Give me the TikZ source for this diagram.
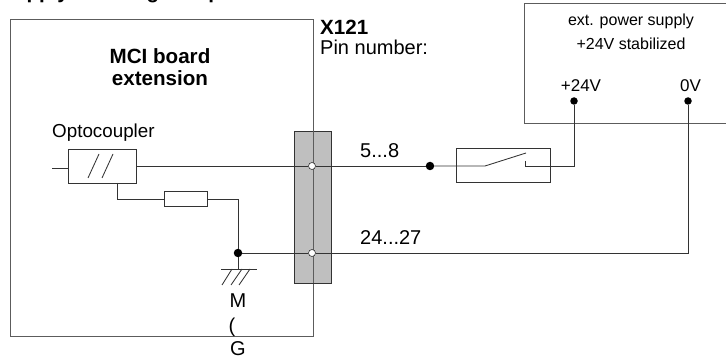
\documentclass[tikz,border=0pt]{standalone}
\usepackage{fontspec}
\setmainfont{Liberation Sans}
\definecolor{wire}{gray}{0.2}
\definecolor{conn}{gray}{0.75}
\tikzset{
  x=1pt,y=-1pt,
  wire/.style={draw=wire,line width=0.85pt},
  frame/.style={draw=wire!80!white,line width=0.85pt},
  part/.style={wire,fill=white,inner sep=0pt,minimum width=0pt},
  dot/.style={circle,fill=black,inner sep=0pt,minimum size=8.5pt},
  pin/.style={circle,draw=wire,fill=white,line width=0.6pt,inner sep=0pt,minimum size=7pt},
  lbl/.style={inner sep=0pt,anchor=base,text=black,font=\fontsize{20}{22}\selectfont},
  lbs/.style={inner sep=0pt,anchor=base,text=black,font=\fontsize{16}{18}\selectfont},
  lbm/.style={inner sep=0pt,anchor=base,text=black,font=\fontsize{17}{19}\selectfont},
  bold/.style={lbl,font=\fontsize{20.6}{22}\selectfont\bfseries},
}
\begin{document}
\begin{tikzpicture}
\useasboundingbox[fill=white] (0,0) rectangle (726,358);
\begin{scope}
\clip (0,0) rectangle (726,358);
\node[bold,anchor=base west] (title) at (0,-1) {Supply\hspace{24pt} voltage output};
\end{scope}
% board
\draw[frame] (10,19) rectangle (313,336);
% connector
\draw[wire,fill=conn] (294,131) rectangle (331,283);
\draw[frame] (313,131) -- (313,283);
% power supply
\draw[frame] (524,3) rectangle (726,123);
\node[lbs] (ps1) at (631,26) {ext. power supply};
\node[lbs] (ps2) at (631,50) {+24V stabilized};
\node[lbm] (v24) at (581,92) {+24V};
\node[lbm] (v0) at (690.5,92) {0V};
\node[dot,minimum size=7.5pt] (d24) at (574,101) {};
\node[dot,minimum size=7.5pt] (d0) at (688,101) {};
% labels
\node[bold] (mci1) at (160,64) {MCI board};
\node[bold] (mci2) at (160,86) {extension};
\node[bold,anchor=base west] (x121) at (320,35) {X121};
\node[lbl,anchor=base west] (pinn) at (320,55) {Pin number:};
\node[lbl,anchor=base west,font=\fontsize{18.8}{22}\selectfont] (opto) at (52,138) {Optocoupler};
\node[lbl,anchor=base west] (p58) at (360,158) {5...8};
\node[lbl,anchor=base west] (p24) at (360,245) {24...27};
% optocoupler
\node[part,draw,minimum width=68pt,minimum height=34pt] (oc) at (102,166) {};
\draw[wire] (88,178) -- (99,154) (102,178) -- (113,154);
\coordinate (ocin) at (52,168);
\draw[wire] (ocin) -- (oc.west |- ocin);
% pins and junctions
\node[pin] (p1) at (312,166) {};
\node[pin] (p2) at (312,253) {};
\node[dot] (j1) at (430,166) {};
\node[dot] (j2) at (238,253) {};
\draw[wire] (oc.east |- p1) -- (p1) -- (j1);
% switch
\draw[wire] (456,148) rectangle (550,182);
\coordinate (s1) at (485,166);
\coordinate (s2) at (526,153);
\coordinate (s3) at (525,161);
\coordinate (s4) at (525,166);
\draw[wire] (j1) -- (s1) -- (s2);
\draw[wire] (s3) -- (s4) -| (d24);
% resistor and ground
\node[part,draw,minimum width=43pt,minimum height=15pt] (r) at (186,199) {};
\draw[wire] (117,183) |- (r.west);
\draw[wire] (r.east) -| (j2);
\draw[wire] (j2) -- (p2);
\draw[wire] (p2) -| (d0);
\coordinate (g) at (238,269);
\draw[wire] (j2) -- (g);
\draw[wire] (221,269) -- (257,269);
\draw[wire] (222,285) -- (232,269) (231,285) -- (242,269) (239,285) -- (250,269);
\node[lbl] (m) at (238,308) {M};
\node[lbl] (par) at (232,332) {(};
\node[lbl] (gg) at (238,355) {G};
\end{tikzpicture}
\end{document}
